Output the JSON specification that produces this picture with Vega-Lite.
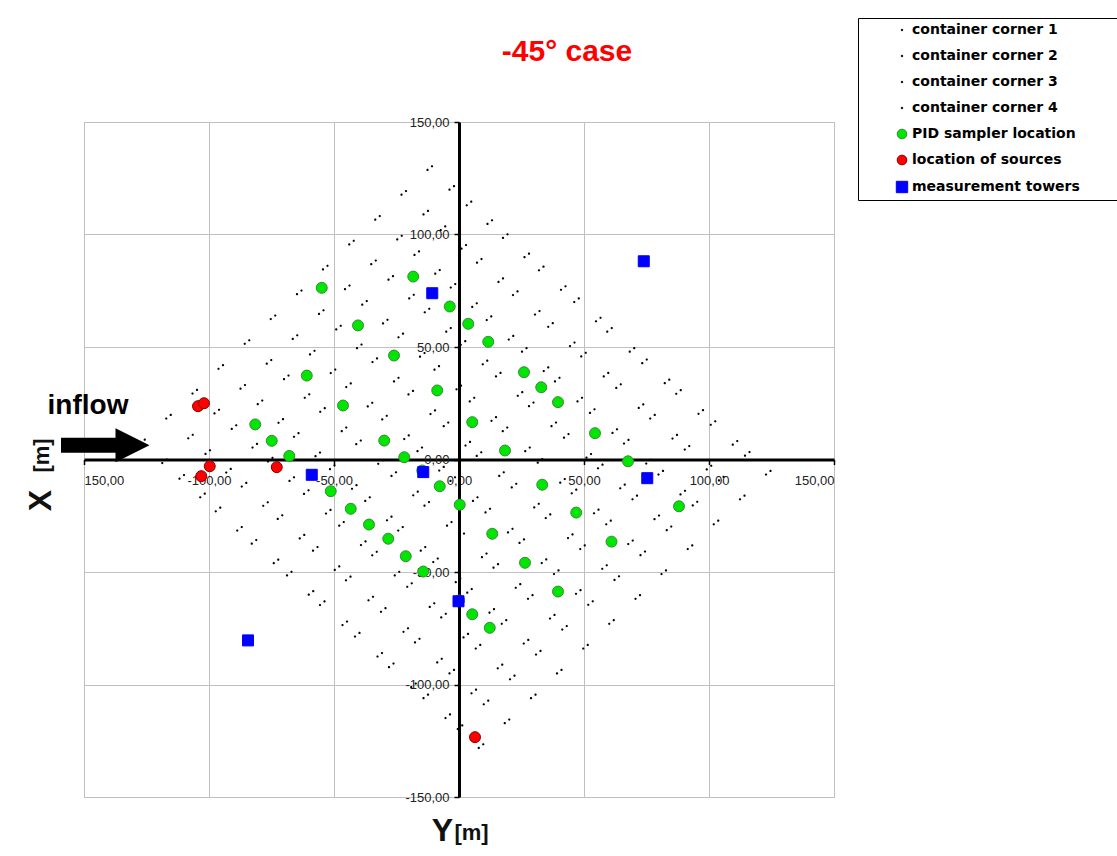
{
  "$schema": "https://vega.github.io/schema/vega-lite/v6.json",
  "width": 750,
  "height": 675,
  "autosize": {"type": "none"},
  "padding": {"left": 84, "top": 122, "right": 283, "bottom": 59},
  "background": "white",
  "config": {
    "view": {"stroke": "#b4b4b4", "strokeWidth": 1},
    "axis": {"labelFont": "Liberation Sans", "labelFontSize": 13, "labelColor": "#222222", "titleFont": "Liberation Sans", "titleFontWeight": "bold", "titleColor": "#111111"}
  },
  "datasets": {
    "c1": [
      {"Y":-12.6,"X":128.7},{"Y":3.1,"X":113.0},{"Y":17.6,"X":98.5},{"Y":32.0,"X":84.1},{"Y":46.1,"X":70.0},{"Y":59.3,"X":56.8},{"Y":73.3,"X":42.8},{"Y":86.9,"X":29.2},{"Y":100.7,"X":15.4},{"Y":114.4,"X":1.7},
      {"Y":-23.0,"X":117.7},{"Y":-7.3,"X":102.0},{"Y":7.2,"X":87.5},{"Y":21.6,"X":73.1},{"Y":35.7,"X":59.0},{"Y":48.9,"X":45.8},{"Y":62.9,"X":31.8},{"Y":76.5,"X":18.2},{"Y":90.3,"X":4.4},{"Y":104.0,"X":-9.3},
      {"Y":-33.5,"X":106.6},{"Y":-17.8,"X":90.9},{"Y":-3.3,"X":76.4},{"Y":11.1,"X":62.0},{"Y":25.2,"X":47.9},{"Y":38.4,"X":34.7},{"Y":52.4,"X":20.7},{"Y":66.0,"X":7.1},{"Y":79.8,"X":-6.7},{"Y":93.5,"X":-20.4},
      {"Y":-43.9,"X":95.6},{"Y":-28.2,"X":79.9},{"Y":-13.7,"X":65.4},{"Y":0.7,"X":51.0},{"Y":14.8,"X":36.9},{"Y":28.0,"X":23.7},{"Y":42.0,"X":9.7},{"Y":55.6,"X":-3.9},{"Y":69.4,"X":-17.7},{"Y":83.1,"X":-31.4},
      {"Y":-54.4,"X":84.5},{"Y":-38.7,"X":68.8},{"Y":-24.2,"X":54.3},{"Y":-9.8,"X":39.9},{"Y":4.3,"X":25.8},{"Y":17.5,"X":12.6},{"Y":31.5,"X":-1.4},{"Y":45.1,"X":-15.0},{"Y":58.9,"X":-28.8},{"Y":72.6,"X":-42.5},
      {"Y":-64.8,"X":73.5},{"Y":-49.1,"X":57.8},{"Y":-34.6,"X":43.3},{"Y":-20.2,"X":28.9},{"Y":-6.1,"X":14.8},{"Y":7.1,"X":1.6},{"Y":21.1,"X":-12.4},{"Y":34.7,"X":-26.0},{"Y":48.5,"X":-39.8},{"Y":62.2,"X":-53.5},
      {"Y":-75.3,"X":62.4},{"Y":-59.6,"X":46.7},{"Y":-45.1,"X":32.2},{"Y":-30.7,"X":17.8},{"Y":-16.6,"X":3.7},{"Y":-3.4,"X":-9.5},{"Y":10.6,"X":-23.5},{"Y":24.2,"X":-37.1},{"Y":38.0,"X":-50.9},{"Y":51.7,"X":-64.6},
      {"Y":-85.7,"X":51.4},{"Y":-70.0,"X":35.7},{"Y":-55.5,"X":21.2},{"Y":-41.1,"X":6.8},{"Y":-27.0,"X":-7.3},{"Y":-13.8,"X":-20.5},{"Y":0.2,"X":-34.5},{"Y":13.8,"X":-48.1},{"Y":27.6,"X":-61.9},{"Y":41.3,"X":-75.6},
      {"Y":-96.2,"X":40.3},{"Y":-80.5,"X":24.6},{"Y":-66.0,"X":10.1},{"Y":-51.6,"X":-4.3},{"Y":-37.5,"X":-18.4},{"Y":-24.3,"X":-31.6},{"Y":-10.3,"X":-45.6},{"Y":3.3,"X":-59.2},{"Y":17.1,"X":-73.0},{"Y":30.8,"X":-86.7},
      {"Y":-106.6,"X":29.3},{"Y":-90.9,"X":13.6},{"Y":-76.4,"X":-0.9},{"Y":-62.0,"X":-15.3},{"Y":-47.9,"X":-29.4},{"Y":-34.7,"X":-42.6},{"Y":-20.7,"X":-56.6},{"Y":-7.1,"X":-70.2},{"Y":6.7,"X":-84.0},{"Y":20.4,"X":-97.7},
      {"Y":-117.1,"X":18.2},{"Y":-101.4,"X":2.5},{"Y":-86.9,"X":-12.0},{"Y":-72.5,"X":-26.4},{"Y":-58.4,"X":-40.5},{"Y":-45.2,"X":-53.7},{"Y":-31.2,"X":-67.7},{"Y":-17.6,"X":-81.3},{"Y":-3.8,"X":-95.1},{"Y":9.9,"X":-108.8},
      {"Y":-127.5,"X":7.2},{"Y":-111.8,"X":-8.5},{"Y":-97.3,"X":-23.0},{"Y":-82.9,"X":-37.4},{"Y":-68.8,"X":-51.5},{"Y":-55.6,"X":-64.7},{"Y":-41.6,"X":-78.7},{"Y":-28.0,"X":-92.3},{"Y":-14.2,"X":-106.1},{"Y":-0.5,"X":-119.8}
    ],
    "c2": [
      {"Y":-10.8,"X":130.3},{"Y":4.9,"X":114.6},{"Y":19.4,"X":100.1},{"Y":33.8,"X":85.7},{"Y":47.9,"X":71.6},{"Y":61.1,"X":58.4},{"Y":75.1,"X":44.4},{"Y":88.7,"X":30.8},{"Y":102.5,"X":17.0},{"Y":116.2,"X":3.3},
      {"Y":-21.2,"X":119.3},{"Y":-5.5,"X":103.6},{"Y":9.0,"X":89.1},{"Y":23.4,"X":74.7},{"Y":37.5,"X":60.6},{"Y":50.7,"X":47.4},{"Y":64.7,"X":33.4},{"Y":78.3,"X":19.8},{"Y":92.1,"X":6.0},{"Y":105.8,"X":-7.7},
      {"Y":-31.7,"X":108.2},{"Y":-16.0,"X":92.5},{"Y":-1.5,"X":78.0},{"Y":12.9,"X":63.6},{"Y":27.0,"X":49.5},{"Y":40.2,"X":36.3},{"Y":54.2,"X":22.3},{"Y":67.8,"X":8.7},{"Y":81.6,"X":-5.1},{"Y":95.3,"X":-18.8},
      {"Y":-42.1,"X":97.2},{"Y":-26.4,"X":81.5},{"Y":-11.9,"X":67.0},{"Y":2.5,"X":52.6},{"Y":16.6,"X":38.5},{"Y":29.8,"X":25.3},{"Y":43.8,"X":11.3},{"Y":57.4,"X":-2.3},{"Y":71.2,"X":-16.1},{"Y":84.9,"X":-29.8},
      {"Y":-52.6,"X":86.1},{"Y":-36.9,"X":70.4},{"Y":-22.4,"X":55.9},{"Y":-8.0,"X":41.5},{"Y":6.1,"X":27.4},{"Y":19.3,"X":14.2},{"Y":33.3,"X":0.2},{"Y":46.9,"X":-13.4},{"Y":60.7,"X":-27.2},{"Y":74.4,"X":-40.9},
      {"Y":-63.0,"X":75.1},{"Y":-47.3,"X":59.4},{"Y":-32.8,"X":44.9},{"Y":-18.4,"X":30.5},{"Y":-4.3,"X":16.4},{"Y":8.9,"X":3.2},{"Y":22.9,"X":-10.8},{"Y":36.5,"X":-24.4},{"Y":50.3,"X":-38.2},{"Y":64.0,"X":-51.9},
      {"Y":-73.5,"X":64.0},{"Y":-57.8,"X":48.3},{"Y":-43.3,"X":33.8},{"Y":-28.9,"X":19.4},{"Y":-14.8,"X":5.3},{"Y":-1.6,"X":-7.9},{"Y":12.4,"X":-21.9},{"Y":26.0,"X":-35.5},{"Y":39.8,"X":-49.3},{"Y":53.5,"X":-63.0},
      {"Y":-83.9,"X":53.0},{"Y":-68.2,"X":37.3},{"Y":-53.7,"X":22.8},{"Y":-39.3,"X":8.4},{"Y":-25.2,"X":-5.7},{"Y":-12.0,"X":-18.9},{"Y":2.0,"X":-32.9},{"Y":15.6,"X":-46.5},{"Y":29.4,"X":-60.3},{"Y":43.1,"X":-74.0},
      {"Y":-94.4,"X":41.9},{"Y":-78.7,"X":26.2},{"Y":-64.2,"X":11.7},{"Y":-49.8,"X":-2.7},{"Y":-35.7,"X":-16.8},{"Y":-22.5,"X":-30.0},{"Y":-8.5,"X":-44.0},{"Y":5.1,"X":-57.6},{"Y":18.9,"X":-71.4},{"Y":32.6,"X":-85.1},
      {"Y":-104.8,"X":30.9},{"Y":-89.1,"X":15.2},{"Y":-74.6,"X":0.7},{"Y":-60.2,"X":-13.7},{"Y":-46.1,"X":-27.8},{"Y":-32.9,"X":-41.0},{"Y":-18.9,"X":-55.0},{"Y":-5.3,"X":-68.6},{"Y":8.5,"X":-82.4},{"Y":22.2,"X":-96.1},
      {"Y":-115.3,"X":19.8},{"Y":-99.6,"X":4.1},{"Y":-85.1,"X":-10.4},{"Y":-70.7,"X":-24.8},{"Y":-56.6,"X":-38.9},{"Y":-43.4,"X":-52.1},{"Y":-29.4,"X":-66.1},{"Y":-15.8,"X":-79.7},{"Y":-2.0,"X":-93.5},{"Y":11.7,"X":-107.2},
      {"Y":-125.7,"X":8.8},{"Y":-110.0,"X":-6.9},{"Y":-95.5,"X":-21.4},{"Y":-81.1,"X":-35.8},{"Y":-67.0,"X":-49.9},{"Y":-53.8,"X":-63.1},{"Y":-39.8,"X":-77.1},{"Y":-26.2,"X":-90.7},{"Y":-12.4,"X":-104.5},{"Y":1.3,"X":-118.2}
    ],
    "c3": [
      {"Y":-2.0,"X":121.5},{"Y":13.2,"X":106.3},{"Y":28.0,"X":91.5},{"Y":42.6,"X":77.0},{"Y":56.6,"X":63.0},{"Y":70.1,"X":49.5},{"Y":84.1,"X":35.5},{"Y":97.6,"X":21.9},{"Y":111.3,"X":8.2},{"Y":124.6,"X":-5.1},
      {"Y":-12.4,"X":110.5},{"Y":2.8,"X":95.3},{"Y":17.6,"X":80.5},{"Y":32.2,"X":66.0},{"Y":46.2,"X":52.0},{"Y":59.7,"X":38.5},{"Y":73.7,"X":24.5},{"Y":87.2,"X":10.9},{"Y":100.9,"X":-2.8},{"Y":114.2,"X":-16.1},
      {"Y":-22.9,"X":99.4},{"Y":-7.7,"X":84.2},{"Y":7.1,"X":69.4},{"Y":21.7,"X":54.9},{"Y":35.7,"X":40.9},{"Y":49.2,"X":27.4},{"Y":63.2,"X":13.4},{"Y":76.7,"X":-0.2},{"Y":90.4,"X":-13.9},{"Y":103.7,"X":-27.2},
      {"Y":-33.3,"X":88.4},{"Y":-18.1,"X":73.2},{"Y":-3.3,"X":58.4},{"Y":11.3,"X":43.9},{"Y":25.3,"X":29.9},{"Y":38.8,"X":16.4},{"Y":52.8,"X":2.4},{"Y":66.3,"X":-11.2},{"Y":80.0,"X":-24.9},{"Y":93.3,"X":-38.2},
      {"Y":-43.8,"X":77.3},{"Y":-28.6,"X":62.1},{"Y":-13.8,"X":47.3},{"Y":0.8,"X":32.8},{"Y":14.8,"X":18.8},{"Y":28.3,"X":5.3},{"Y":42.3,"X":-8.7},{"Y":55.8,"X":-22.3},{"Y":69.5,"X":-36.0},{"Y":82.8,"X":-49.3},
      {"Y":-54.2,"X":66.3},{"Y":-39.0,"X":51.1},{"Y":-24.2,"X":36.3},{"Y":-9.6,"X":21.8},{"Y":4.4,"X":7.8},{"Y":17.9,"X":-5.7},{"Y":31.9,"X":-19.7},{"Y":45.4,"X":-33.3},{"Y":59.1,"X":-47.0},{"Y":72.4,"X":-60.3},
      {"Y":-64.7,"X":55.2},{"Y":-49.5,"X":40.0},{"Y":-34.7,"X":25.2},{"Y":-20.1,"X":10.7},{"Y":-6.1,"X":-3.3},{"Y":7.4,"X":-16.8},{"Y":21.4,"X":-30.8},{"Y":34.9,"X":-44.4},{"Y":48.6,"X":-58.1},{"Y":61.9,"X":-71.4},
      {"Y":-75.1,"X":44.2},{"Y":-59.9,"X":29.0},{"Y":-45.1,"X":14.2},{"Y":-30.5,"X":-0.3},{"Y":-16.5,"X":-14.3},{"Y":-3.0,"X":-27.8},{"Y":11.0,"X":-41.8},{"Y":24.5,"X":-55.4},{"Y":38.2,"X":-69.1},{"Y":51.5,"X":-82.4},
      {"Y":-85.6,"X":33.1},{"Y":-70.4,"X":17.9},{"Y":-55.6,"X":3.1},{"Y":-41.0,"X":-11.4},{"Y":-27.0,"X":-25.4},{"Y":-13.5,"X":-38.9},{"Y":0.5,"X":-52.9},{"Y":14.0,"X":-66.5},{"Y":27.7,"X":-80.2},{"Y":41.0,"X":-93.5},
      {"Y":-96.0,"X":22.1},{"Y":-80.8,"X":6.9},{"Y":-66.0,"X":-7.9},{"Y":-51.4,"X":-22.4},{"Y":-37.4,"X":-36.4},{"Y":-23.9,"X":-49.9},{"Y":-9.9,"X":-63.9},{"Y":3.6,"X":-77.5},{"Y":17.3,"X":-91.2},{"Y":30.6,"X":-104.5},
      {"Y":-106.5,"X":11.0},{"Y":-91.3,"X":-4.2},{"Y":-76.5,"X":-19.0},{"Y":-61.9,"X":-33.5},{"Y":-47.9,"X":-47.5},{"Y":-34.4,"X":-61.0},{"Y":-20.4,"X":-75.0},{"Y":-6.9,"X":-88.6},{"Y":6.8,"X":-102.3},{"Y":20.1,"X":-115.6},
      {"Y":-116.9,"X":0.0},{"Y":-101.7,"X":-15.2},{"Y":-86.9,"X":-30.0},{"Y":-72.3,"X":-44.5},{"Y":-58.3,"X":-58.5},{"Y":-44.8,"X":-72.0},{"Y":-30.8,"X":-86.0},{"Y":-17.3,"X":-99.6},{"Y":-3.6,"X":-113.3},{"Y":9.7,"X":-126.6}
    ],
    "c4": [
      {"Y":-3.8,"X":119.9},{"Y":11.4,"X":104.7},{"Y":26.2,"X":89.9},{"Y":40.8,"X":75.4},{"Y":54.8,"X":61.4},{"Y":68.3,"X":47.9},{"Y":82.3,"X":33.9},{"Y":95.8,"X":20.3},{"Y":109.5,"X":6.6},{"Y":122.8,"X":-6.7},
      {"Y":-14.2,"X":108.9},{"Y":1.0,"X":93.7},{"Y":15.8,"X":78.9},{"Y":30.4,"X":64.4},{"Y":44.4,"X":50.4},{"Y":57.9,"X":36.9},{"Y":71.9,"X":22.9},{"Y":85.4,"X":9.3},{"Y":99.1,"X":-4.4},{"Y":112.4,"X":-17.7},
      {"Y":-24.7,"X":97.8},{"Y":-9.5,"X":82.6},{"Y":5.3,"X":67.8},{"Y":19.9,"X":53.3},{"Y":33.9,"X":39.3},{"Y":47.4,"X":25.8},{"Y":61.4,"X":11.8},{"Y":74.9,"X":-1.8},{"Y":88.6,"X":-15.5},{"Y":101.9,"X":-28.8},
      {"Y":-35.1,"X":86.8},{"Y":-19.9,"X":71.6},{"Y":-5.1,"X":56.8},{"Y":9.5,"X":42.3},{"Y":23.5,"X":28.3},{"Y":37.0,"X":14.8},{"Y":51.0,"X":0.8},{"Y":64.5,"X":-12.8},{"Y":78.2,"X":-26.5},{"Y":91.5,"X":-39.8},
      {"Y":-45.6,"X":75.7},{"Y":-30.4,"X":60.5},{"Y":-15.6,"X":45.7},{"Y":-1.0,"X":31.2},{"Y":13.0,"X":17.2},{"Y":26.5,"X":3.7},{"Y":40.5,"X":-10.3},{"Y":54.0,"X":-23.9},{"Y":67.7,"X":-37.6},{"Y":81.0,"X":-50.9},
      {"Y":-56.0,"X":64.7},{"Y":-40.8,"X":49.5},{"Y":-26.0,"X":34.7},{"Y":-11.4,"X":20.2},{"Y":2.6,"X":6.2},{"Y":16.1,"X":-7.3},{"Y":30.1,"X":-21.3},{"Y":43.6,"X":-34.9},{"Y":57.3,"X":-48.6},{"Y":70.6,"X":-61.9},
      {"Y":-66.5,"X":53.6},{"Y":-51.3,"X":38.4},{"Y":-36.5,"X":23.6},{"Y":-21.9,"X":9.1},{"Y":-7.9,"X":-4.9},{"Y":5.6,"X":-18.4},{"Y":19.6,"X":-32.4},{"Y":33.1,"X":-46.0},{"Y":46.8,"X":-59.7},{"Y":60.1,"X":-73.0},
      {"Y":-76.9,"X":42.6},{"Y":-61.7,"X":27.4},{"Y":-46.9,"X":12.6},{"Y":-32.3,"X":-1.9},{"Y":-18.3,"X":-15.9},{"Y":-4.8,"X":-29.4},{"Y":9.2,"X":-43.4},{"Y":22.7,"X":-57.0},{"Y":36.4,"X":-70.7},{"Y":49.7,"X":-84.0},
      {"Y":-87.4,"X":31.5},{"Y":-72.2,"X":16.3},{"Y":-57.4,"X":1.5},{"Y":-42.8,"X":-13.0},{"Y":-28.8,"X":-27.0},{"Y":-15.3,"X":-40.5},{"Y":-1.3,"X":-54.5},{"Y":12.2,"X":-68.1},{"Y":25.9,"X":-81.8},{"Y":39.2,"X":-95.1},
      {"Y":-97.8,"X":20.5},{"Y":-82.6,"X":5.3},{"Y":-67.8,"X":-9.5},{"Y":-53.2,"X":-24.0},{"Y":-39.2,"X":-38.0},{"Y":-25.7,"X":-51.5},{"Y":-11.7,"X":-65.5},{"Y":1.8,"X":-79.1},{"Y":15.5,"X":-92.8},{"Y":28.8,"X":-106.1},
      {"Y":-108.3,"X":9.4},{"Y":-93.1,"X":-5.8},{"Y":-78.3,"X":-20.6},{"Y":-63.7,"X":-35.1},{"Y":-49.7,"X":-49.1},{"Y":-36.2,"X":-62.6},{"Y":-22.2,"X":-76.6},{"Y":-8.7,"X":-90.2},{"Y":5.0,"X":-103.9},{"Y":18.3,"X":-117.2},
      {"Y":-118.7,"X":-1.6},{"Y":-103.5,"X":-16.8},{"Y":-88.7,"X":-31.6},{"Y":-74.1,"X":-46.1},{"Y":-60.1,"X":-60.1},{"Y":-46.6,"X":-73.6},{"Y":-32.6,"X":-87.6},{"Y":-19.1,"X":-101.2},{"Y":-5.4,"X":-114.9},{"Y":7.9,"X":-128.2}
    ],
    "pid": [
      {"Y":-54.9,"X":76.3},{"Y":-18.3,"X":81.3},{"Y":-40.4,"X":59.6},{"Y":-3.7,"X":68.0},{"Y":3.7,"X":60.3},{"Y":11.7,"X":52.3},{"Y":-26.0,"X":46.2},{"Y":-60.9,"X":37.3},{"Y":26.0,"X":38.8},{"Y":32.9,"X":32.1},
      {"Y":39.6,"X":25.5},{"Y":-8.7,"X":30.7},{"Y":-46.4,"X":24.0},{"Y":5.3,"X":16.6},{"Y":-81.5,"X":15.6},{"Y":54.4,"X":11.7},{"Y":-29.9,"X":8.4},{"Y":-74.9,"X":8.3},{"Y":18.4,"X":4.0},{"Y":-67.9,"X":1.6},
      {"Y":-21.9,"X":1.0},{"Y":67.6,"X":-0.8},{"Y":-7.7,"X":-11.9},{"Y":-51.3,"X":-14.1},{"Y":33.3,"X":-11.2},{"Y":0.3,"X":-20.1},{"Y":-43.3,"X":-21.9},{"Y":46.9,"X":-23.6},{"Y":88.0,"X":-20.8},{"Y":-36.0,"X":-28.9},
      {"Y":13.3,"X":-33.0},{"Y":-28.3,"X":-35.2},{"Y":61.0,"X":-36.5},{"Y":-21.3,"X":-43.0},{"Y":26.4,"X":-45.9},{"Y":-14.3,"X":-49.8},{"Y":39.6,"X":-58.7},{"Y":5.3,"X":-68.8},{"Y":12.3,"X":-74.8},{"Y":0.0,"X":-62.7},
      {"Y":-14.7,"X":-4.9}
    ],
    "sources": [
      {"Y":-104.4,"X":23.7},{"Y":-102.0,"X":25.0},{"Y":-99.7,"X":-3.0},{"Y":-103.1,"X":-7.4},{"Y":-72.9,"X":-3.4},{"Y":6.4,"X":-123.4}
    ],
    "towers": [
      {"Y":-10.7,"X":73.9},{"Y":73.9,"X":88.1},{"Y":-58.9,"X":-6.8},{"Y":-14.3,"X":-5.6},{"Y":75.3,"X":-8.3},{"Y":-0.2,"X":-63.0},{"Y":-84.4,"X":-80.4}
    ]
  },
  "layer": [
    {
      "data": {"name": "c1"},
      "mark": {"type": "point", "filled": true, "size": 225, "strokeWidth": 0, "opacity": 1},
      "encoding": {
        "x": {"field": "Y", "type": "quantitative", "scale": {"domain": [-150, 150], "nice": false, "zero": false},
              "axis": {"orient": "bottom", "values": [-150, -100, -50, 50, 100, 150], "grid": true, "gridColor": "#c0c0c0", "gridWidth": 1, "domain": false, "ticks": false, "labels": false,
                       "title": "[m]", "titleFontSize": 22, "titleX": 387, "titleY": 35, "titleAlign": "center", "titleBaseline": "middle"}},
        "y": {"field": "X", "type": "quantitative", "scale": {"domain": [-150, 150], "nice": false, "zero": false},
              "axis": {"orient": "left", "values": [-150, -100, -50, 50, 100, 150], "grid": true, "gridColor": "#c0c0c0", "gridWidth": 1, "domain": false, "ticks": false, "labels": false,
                       "title": "[m]", "titleFontSize": 22, "titleX": -43, "titleY": 333, "titleAlign": "center", "titleBaseline": "middle", "titleAngle": 270}},
        "color": {"datum": "container corner 1", "type": "nominal",
                  "scale": {"domain": ["container corner 1", "container corner 2", "container corner 3", "container corner 4", "PID sampler location", "location of sources", "measurement towers"],
                            "range": ["#000000", "#000000", "#000000", "#000000", "#00e600", "#ff0000", "#0000ff"]},
                  "legend": {"title": null, "orient": "none", "legendX": 774, "legendY": -104, "padding": 5, "fillColor": "white", "strokeColor": "#000000",
                             "labelFont": "DejaVu Sans", "labelFontWeight": "bold", "labelFontSize": 14, "labelColor": "#000000", "labelLimit": 400,
                             "symbolSize": 130, "symbolOffset": 32, "labelOffset": 3, "rowPadding": 12, "symbolStrokeWidth": 1, "symbolOpacity": 1,
                             "labelExpr": "datum.label + '⠀⠀⠀'"}},
        "shape": {"datum": "container corner 1", "type": "nominal",
                  "scale": {"domain": ["container corner 1", "container corner 2", "container corner 3", "container corner 4", "PID sampler location", "location of sources", "measurement towers"],
                            "range": ["M0.15,0A0.15,0.15,0,1,1,-0.15,0A0.15,0.15,0,1,1,0.15,0Z", "M0.15,0A0.15,0.15,0,1,1,-0.15,0A0.15,0.15,0,1,1,0.15,0Z", "M0.15,0A0.15,0.15,0,1,1,-0.15,0A0.15,0.15,0,1,1,0.15,0Z", "M0.15,0A0.15,0.15,0,1,1,-0.15,0A0.15,0.15,0,1,1,0.15,0Z",
                                      "M0.85,0A0.85,0.85,0,1,1,-0.85,0A0.85,0.85,0,1,1,0.85,0Z", "M0.85,0A0.85,0.85,0,1,1,-0.85,0A0.85,0.85,0,1,1,0.85,0Z", "square"]},
                  "legend": {"title": null}},
        "stroke": {"datum": "container corner 1", "type": "nominal",
                   "scale": {"domain": ["container corner 1", "container corner 2", "container corner 3", "container corner 4", "PID sampler location", "location of sources", "measurement towers"],
                             "range": ["#000000", "#000000", "#000000", "#000000", "#3a8a3a", "#8b0000", "#0000ff"]},
                   "legend": {"title": null}}
      }
    },
    {
      "data": {"name": "c2"},
      "mark": {"type": "point", "filled": true, "size": 225, "strokeWidth": 0, "opacity": 1},
      "encoding": {
        "x": {"field": "Y", "type": "quantitative", "axis": null},
        "y": {"field": "X", "type": "quantitative", "axis": null},
        "color": {"datum": "container corner 2", "type": "nominal", "legend": null},
        "shape": {"datum": "container corner 2", "type": "nominal", "legend": null},
        "stroke": {"datum": "container corner 2", "type": "nominal", "legend": null}
      }
    },
    {
      "data": {"name": "c3"},
      "mark": {"type": "point", "filled": true, "size": 225, "strokeWidth": 0, "opacity": 1},
      "encoding": {
        "x": {"field": "Y", "type": "quantitative", "axis": null},
        "y": {"field": "X", "type": "quantitative", "axis": null},
        "color": {"datum": "container corner 3", "type": "nominal", "legend": null},
        "shape": {"datum": "container corner 3", "type": "nominal", "legend": null},
        "stroke": {"datum": "container corner 3", "type": "nominal", "legend": null}
      }
    },
    {
      "data": {"name": "c4"},
      "mark": {"type": "point", "filled": true, "size": 225, "strokeWidth": 0, "opacity": 1},
      "encoding": {
        "x": {"field": "Y", "type": "quantitative", "axis": null},
        "y": {"field": "X", "type": "quantitative", "axis": null},
        "color": {"datum": "container corner 4", "type": "nominal", "legend": null},
        "shape": {"datum": "container corner 4", "type": "nominal", "legend": null},
        "stroke": {"datum": "container corner 4", "type": "nominal", "legend": null}
      }
    },
    {
      "data": {"values": [{"Y": -159.2, "Y2": -135.5, "X": 6.3}]},
      "mark": {"type": "rule", "strokeWidth": 15, "color": "#000000", "strokeCap": "butt"},
      "encoding": {
        "x": {"field": "Y", "type": "quantitative", "axis": null},
        "x2": {"field": "Y2"},
        "y": {"field": "X", "type": "quantitative", "axis": null}
      }
    },
    {
      "data": {"values": [{"Y": -130.6, "X": 6.3}]},
      "mark": {"type": "point", "shape": "M1,0L-1,-1L-1,1Z", "size": 1156, "filled": true, "color": "#000000", "strokeWidth": 0, "opacity": 1},
      "encoding": {
        "x": {"field": "Y", "type": "quantitative", "axis": null},
        "y": {"field": "X", "type": "quantitative", "axis": null}
      }
    },
    {
      "data": {"values": [{"Y": -148.4, "X": 20.4, "t": "inflow"}]},
      "mark": {"type": "text", "font": "Liberation Sans", "fontSize": 28, "fontWeight": "bold", "color": "#000000", "align": "center", "baseline": "alphabetic"},
      "encoding": {
        "x": {"field": "Y", "type": "quantitative", "axis": null},
        "y": {"field": "X", "type": "quantitative", "axis": null},
        "text": {"field": "t"}
      }
    },
    {
      "data": {"values": [{"Y": 43.2, "X": 176.9, "t": "-45° case"}]},
      "mark": {"type": "text", "font": "Liberation Sans", "fontSize": 30, "fontWeight": "bold", "color": "#ff0000", "align": "center", "baseline": "alphabetic"},
      "encoding": {
        "x": {"field": "Y", "type": "quantitative", "axis": null},
        "y": {"field": "X", "type": "quantitative", "axis": null},
        "text": {"field": "t"}
      }
    },
    {
      "data": {"name": "pid"},
      "mark": {"type": "point", "filled": true, "size": 167, "strokeWidth": 1, "opacity": 1},
      "encoding": {
        "x": {"field": "Y", "type": "quantitative",
              "axis": {"orient": "bottom", "offset": -337.5, "values": [-150, -100, -50, 0, 50, 100, 150], "grid": false,
                       "domainColor": "#000000", "domainWidth": 3, "tickColor": "#000000", "tickWidth": 1.5, "tickSize": 5,
                       "labelPadding": 10, "labelFlush": true,
                       "labelExpr": "datum.value == -150 ? '150,00' : (datum.value < 0 ? '-' : '') + replace(format(abs(datum.value), '.2f'), '.', ',')",
                       "title": "Y", "titleFontSize": 32, "titleX": 358, "titleY": 371, "titleAlign": "center", "titleBaseline": "middle"}},
        "y": {"field": "X", "type": "quantitative",
              "axis": {"orient": "left", "offset": -375, "values": [-150, -100, -50, 0, 50, 100, 150], "grid": false,
                       "domainColor": "#000000", "domainWidth": 3, "tickColor": "#000000", "tickWidth": 1.5, "tickSize": 5,
                       "labelPadding": 5,
                       "labelExpr": "(datum.value < 0 ? '-' : '') + replace(format(abs(datum.value), '.2f'), '.', ',')",
                       "title": "X", "titleFontSize": 32, "titleX": -419, "titleY": 378, "titleAlign": "center", "titleBaseline": "middle", "titleAngle": 270}},
        "color": {"datum": "PID sampler location", "type": "nominal", "legend": null},
        "shape": {"datum": "PID sampler location", "type": "nominal", "legend": null},
        "stroke": {"datum": "PID sampler location", "type": "nominal", "legend": null}
      }
    },
    {
      "data": {"name": "sources"},
      "mark": {"type": "point", "filled": true, "size": 167, "strokeWidth": 1, "opacity": 1},
      "encoding": {
        "x": {"field": "Y", "type": "quantitative", "axis": null},
        "y": {"field": "X", "type": "quantitative", "axis": null},
        "color": {"datum": "location of sources", "type": "nominal", "legend": null},
        "shape": {"datum": "location of sources", "type": "nominal", "legend": null},
        "stroke": {"datum": "location of sources", "type": "nominal", "legend": null}
      }
    },
    {
      "data": {"name": "towers"},
      "mark": {"type": "point", "filled": true, "size": 121, "strokeWidth": 1, "opacity": 1},
      "encoding": {
        "x": {"field": "Y", "type": "quantitative", "axis": null},
        "y": {"field": "X", "type": "quantitative", "axis": null},
        "color": {"datum": "measurement towers", "type": "nominal", "legend": null},
        "shape": {"datum": "measurement towers", "type": "nominal", "legend": null},
        "stroke": {"datum": "measurement towers", "type": "nominal", "legend": null}
      }
    }
  ],
  "resolve": {"axis": {"x": "independent", "y": "independent"}}
}
